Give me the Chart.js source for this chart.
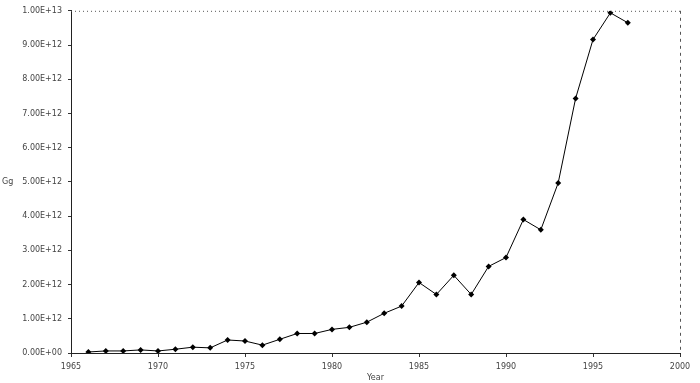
<!DOCTYPE html>
<html lang="en">
<head>
    <meta charset="UTF-8">
    <title>Emissions chart</title>
    <script src="https://cdn.jsdelivr.net/npm/chart.js"></script>
    <style>
        html, body { margin: 0; padding: 0; background: #ffffff; }
        .janela { width: 700px; height: 383px; position: relative; }
    </style>
</head>
<body>
    <div class="janela">
        <canvas id="grafico"></canvas>
    </div>

    <script>
        // dados
        const anos = [1966, 1967, 1968, 1969, 1970, 1971, 1972, 1973, 1974, 1975, 1976, 1977,
            1978, 1979, 1980, 1981, 1982, 1983, 1984, 1985, 1986, 1987, 1988, 1989,
            1990, 1991, 1992, 1993, 1994, 1995, 1996, 1997];
        const valores = [0.03e12, 0.06e12, 0.06e12, 0.09e12, 0.06e12, 0.11e12, 0.17e12, 0.15e12,
            0.38e12, 0.35e12, 0.23e12, 0.40e12, 0.57e12, 0.57e12, 0.69e12, 0.75e12,
            0.90e12, 1.16e12, 1.37e12, 2.06e12, 1.71e12, 2.27e12, 1.71e12, 2.53e12,
            2.79e12, 3.90e12, 3.60e12, 4.97e12, 7.44e12, 9.16e12, 9.94e12, 9.65e12];
        const ticksX = [1965, 1970, 1975, 1980, 1985, 1990, 1995, 2000];
        const ticksY = ["0.00E+00", "1.00E+12", "2.00E+12", "3.00E+12", "4.00E+12", "5.00E+12",
            "6.00E+12", "7.00E+12", "8.00E+12", "9.00E+12", "1.00E+13"];

        const pontos = anos.map((a, i) => ({ x: a, y: valores[i] }));

        // moldura pontilhada em cima e tracejada na direita
        const moldura = {
            id: 'moldura',
            afterDraw(chart) {
                const { ctx, chartArea: a } = chart;
                ctx.save();
                ctx.strokeStyle = "#555";
                ctx.lineWidth = 1;
                ctx.setLineDash([1, 3]);
                ctx.beginPath();
                ctx.moveTo(a.left, a.top + 0.5);
                ctx.lineTo(a.right, a.top + 0.5);
                ctx.stroke();
                ctx.setLineDash([3, 4]);
                ctx.beginPath();
                ctx.moveTo(a.right + 0.5, a.top);
                ctx.lineTo(a.right + 0.5, a.bottom);
                ctx.stroke();
                // titulo do eixo y, horizontal
                ctx.setLineDash([]);
                ctx.fillStyle = "#444";
                ctx.font = "8px 'DejaVu Sans'";
                ctx.textBaseline = "middle";
                ctx.fillText("Gg", 2, chart.scales.y.getPixelForValue(5e12));
                ctx.restore();
            }
        };

        new Chart(document.getElementById('grafico'), {
            type: 'line',
            data: {
                datasets: [{
                    data: pontos,
                    borderColor: "#000",
                    borderWidth: 1,
                    backgroundColor: "#000",
                    pointStyle: 'rectRot',
                    pointRadius: 3,
                    pointBorderWidth: 0,
                    tension: 0
                }]
            },
            options: {
                responsive: true,
                maintainAspectRatio: false,
                animation: false,
                layout: { padding: { top: 9, right: 20, left: 0, bottom: 0 } },
                plugins: {
                    legend: { display: false },
                    tooltip: { enabled: false }
                },
                scales: {
                    x: {
                        type: 'linear',
                        min: 1965,
                        max: 2000,
                        afterBuildTicks: (s) => { s.ticks = ticksX.map(v => ({ value: v })); },
                        afterFit: (s) => { s.height = 30; },
                        ticks: {
                            color: "#444",
                            font: { size: 8, family: "DejaVu Sans" },
                            padding: 5,
                            maxRotation: 0,
                            callback: (v) => String(v)
                        },
                        grid: { drawOnChartArea: false, tickLength: 4, color: "#333" },
                        border: { color: "#222", width: 1 },
                        title: {
                            display: true,
                            text: "Year",
                            color: "#444",
                            font: { size: 8, family: "DejaVu Sans" },
                            padding: { top: 3, bottom: 0 }
                        }
                    },
                    y: {
                        min: 0,
                        max: 1e13,
                        afterBuildTicks: (s) => { s.ticks = ticksY.map((t, i) => ({ value: i * 1e12 })); },
                        afterFit: (s) => { s.width = 71; },
                        ticks: {
                            color: "#444",
                            font: { size: 8, family: "DejaVu Sans" },
                            padding: 6,
                            callback: (v) => ticksY[Math.round(v / 1e12)]
                        },
                        grid: { drawOnChartArea: false, tickLength: 3, color: "#333" },
                        border: { color: "#222", width: 1, dash: [4, 2] }
                    }
                }
            },
            plugins: [moldura]
        });
    </script>
</body>
</html>
